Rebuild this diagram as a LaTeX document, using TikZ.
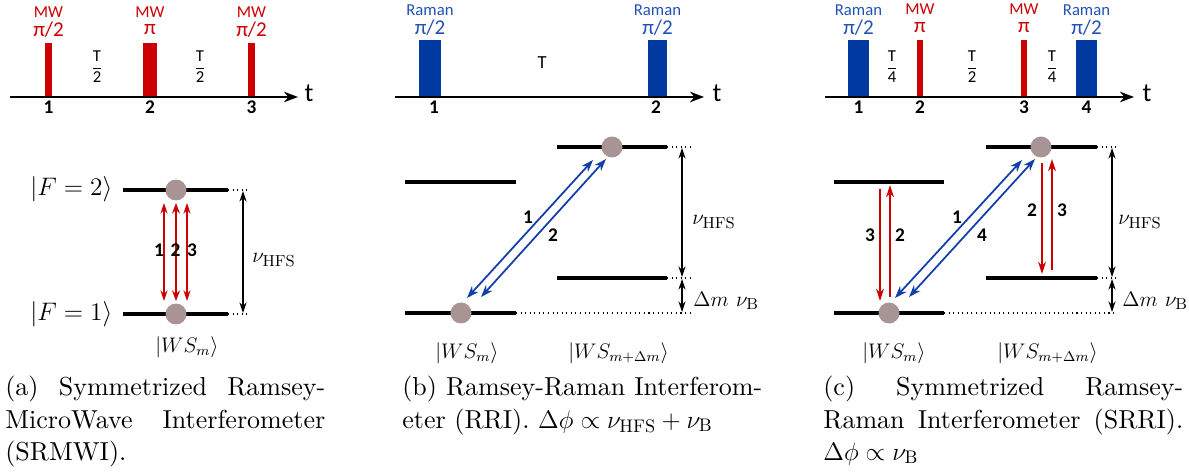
\documentclass[tikz,border=0pt]{standalone}
\usepackage{amsmath,amssymb}
\usepackage{fontspec}
\usepackage{tikz}
\usetikzlibrary{arrows.meta}
\newfontfamily\calib{Carlito}
\newfontfamily\capfont{lmroman10-regular.otf}
\definecolor{mwred}{RGB}{204,0,0}
\definecolor{ramanblue}{RGB}{0,58,160}
\definecolor{ramantext}{RGB}{32,82,180}
\definecolor{beamblue}{RGB}{18,62,170}
\definecolor{atomgray}{RGB}{168,148,148}

\tikzset{
  level/.style={line width=1.9pt},
  guide/.style={dotted, line width=0.6pt},
  atom/.style={circle, fill=atomgray, minimum size=0.42cm, inner sep=0pt},
  taxis/.style={line width=1.1pt, -{Stealth[length=8pt,width=6pt]}},
  mwlab/.style={text=mwred, inner sep=0pt, font=\calib\fontsize{9.5}{9.5}\selectfont},
  ramanlab/.style={text=ramantext, inner sep=0pt, font=\calib\fontsize{9.5}{9.5}\selectfont},
  pilab/.style={inner sep=0pt, font=\calib\fontsize{12}{12}\selectfont},
  pnum/.style={inner sep=0pt, font=\calib\bfseries\fontsize{11}{11}\selectfont},
  gap/.style={inner sep=0pt, font=\calib\fontsize{10.5}{10.5}\selectfont},
  gapfrac/.style={inner sep=0pt, font=\calib\fontsize{9.5}{9.5}\selectfont},
  mwbeam/.style={mwred, line width=0.8pt},
  ramanbeam/.style={beamblue, line width=1pt, {Stealth[length=7pt,width=5pt]}-{Stealth[length=7pt,width=5pt]}},
  split/.style={line width=0.7pt, {Stealth[length=6pt,width=4pt]}-{Stealth[length=6pt,width=4pt]}},
  mathlab/.style={inner sep=0pt, anchor=base west},
  statelab/.style={inner sep=0pt, anchor=base west, font=\fontsize{14}{16}\selectfont},
  gaplab/.style={inner sep=0pt, anchor=base west, font=\fontsize{13}{15}\selectfont},
  caption/.style={anchor=north west, inner sep=0pt, align=justify, text width=#1,
    font=\capfont\fontsize{14.8}{18.3}\selectfont}
}

\begin{document}
\begin{tikzpicture}[x=0.02cm, y=-0.02cm, font=\fontsize{12}{14}\selectfont]
        \useasboundingbox (0,0) rectangle (1189,476);

        % (a) microwave sequence
        \coordinate (a-t0) at (10,97);
        \coordinate (a-t1) at (298,97);
        \fill[mwred] (45,43) rectangle (52,97);
        \fill[mwred] (143,43) rectangle (157,97);
        \fill[mwred] (248,43) rectangle (255,97);
        \draw[taxis] (a-t0) -- (a-t1);
        \node[inner sep=0pt, font=\calib\fontsize{15}{15}\selectfont] (a-t) at (309,93) {t};
        \node[mwlab] (a-mw1) at (48.5,12) {MW};
        \node[pilab, text=mwred] (a-pi1) at (48.5,30) {π/2};
        \node[mwlab] (a-mw2) at (150,12) {MW};
        \node[pilab, text=mwred] (a-pi2) at (150,30) {π};
        \node[mwlab] (a-mw3) at (251.5,12) {MW};
        \node[pilab, text=mwred] (a-pi3) at (251.5,30) {π/2};
        \node[gapfrac] (a-half1) at (97,67) {$\dfrac{\text{T}}{\text{2}}$};
        \node[gapfrac] (a-half2) at (200,67) {$\dfrac{\text{T}}{\text{2}}$};
        \node[pnum] (a-n1) at (48.5,107) {1};
        \node[pnum] (a-n2) at (150,107) {2};
        \node[pnum] (a-n3) at (251.5,107) {3};

        % (a) levels
        \draw[level] (123,190) -- (228,190);
        \draw[level] (123,314) -- (228,314);
        \draw[guide] (228,190) -- (248,190);
        \draw[guide] (228,314) -- (248,314);
        \node[atom] (a-up) at (176,190) {};
        \node[atom] (a-dn) at (176,314) {};
        \coordinate (a-r1t) at (164,203);
        \coordinate (a-r1b) at (164,301);
        \coordinate (a-r2t) at (176,203);
        \coordinate (a-r2b) at (176,301);
        \coordinate (a-r3t) at (187,203);
        \coordinate (a-r3b) at (187,301);
        \draw[mwbeam, {Stealth[length=6pt,width=4pt]}-{Stealth[length=6pt,width=4pt]}] (a-r1t) -- (a-r1b);
        \draw[mwbeam, line width=1.5pt, {Stealth[length=6pt,width=4.5pt]}-{Stealth[length=6pt,width=4.5pt]}] (a-r2t) -- (a-r2b);
        \draw[mwbeam, {Stealth[length=6pt,width=4pt]}-{Stealth[length=6pt,width=4pt]}] (a-r3t) -- (a-r3b);
        \node[pnum] (a-l1) at (159,250) {1};
        \node[pnum] (a-l2) at (175.5,250) {2};
        \node[pnum] (a-l3) at (192,250) {3};
        \coordinate (a-s0) at (243,191);
        \coordinate (a-s1) at (243,313);
        \draw[split] (a-s0) -- (a-s1);
        \node[gaplab] (a-hfs) at (252,262) {$\nu_{\mathrm{HFS}}$};
        \node[statelab] (a-f2) at (30,195) {$|F=2\rangle$};
        \node[statelab] (a-f1) at (30,320) {$|F=1\rangle$};
        \node[mathlab] (a-ws) at (155,352) {$|W S_m\rangle$};

        % (b) Raman sequence
        \coordinate (b-t0) at (395,97);
        \coordinate (b-t1) at (704,97);
        \fill[ramanblue] (419,40) rectangle (441,97);
        \fill[ramanblue] (648,40) rectangle (667,97);
        \draw[taxis] (b-t0) -- (b-t1);
        \node[inner sep=0pt, font=\calib\fontsize{15}{15}\selectfont] (b-t) at (717,93) {t};
        \node[ramanlab] (b-ra1) at (430,10) {Raman};
        \node[pilab, text=ramantext] (b-pi1) at (430,28) {π/2};
        \node[ramanlab] (b-ra2) at (657.5,10) {Raman};
        \node[pilab, text=ramantext] (b-pi2) at (657.5,28) {π/2};
        \node[gap] (b-gap) at (542,63) {T};
        \node[pnum] (b-n1) at (434,107) {1};
        \node[pnum] (b-n2) at (656,107) {2};

        % (b) levels
        \draw[level] (405,182) -- (516,182);
        \draw[level] (405,313) -- (516,313);
        \draw[level] (557,147) -- (667,147);
        \draw[level] (557,278) -- (667,278);
        \draw[guide] (667,147) -- (690,147);
        \draw[guide] (667,278) -- (690,278);
        \draw[guide] (516,313) -- (690,313);
        \node[atom] (b-dn) at (461,313) {};
        \node[atom] (b-up) at (612,147) {};
        \coordinate (b-b1s) at (467,298);
        \coordinate (b-b1e) at (593,160);
        \coordinate (b-b2s) at (481,297);
        \coordinate (b-b2e) at (606,159);
        \draw[ramanbeam] (b-b1s) -- (b-b1e);
        \draw[ramanbeam] (b-b2s) -- (b-b2e);
        \node[pnum] (b-l1) at (528,217) {1};
        \node[pnum] (b-l2) at (553,235) {2};
        \coordinate (b-s0) at (682,148);
        \coordinate (b-s1) at (682,277);
        \coordinate (b-s2) at (682,279);
        \coordinate (b-s3) at (682,312);
        \draw[split] (b-s0) -- (b-s1);
        \draw[split] (b-s2) -- (b-s3);
        \node[gaplab] (b-hfs) at (692,224) {$\nu_{\mathrm{HFS}}$};
        \node[gaplab] (b-zee) at (693,306) {$\Delta m\ \nu_{\mathrm{B}}$};
        \node[mathlab] (b-ws) at (435,358) {$|W S_m\rangle$};
        \node[mathlab] (b-wsd) at (568,358) {$|W S_{m+\Delta m}\rangle$};

        % (c) symmetrized Raman sequence
        \coordinate (c-t0) at (825,97);
        \coordinate (c-t1) at (1134,97);
        \fill[ramanblue] (848,40) rectangle (869,97);
        \fill[mwred] (917,40) rectangle (923,97);
        \fill[mwred] (1021,40) rectangle (1027,97);
        \fill[ramanblue] (1076,40) rectangle (1097,97);
        \draw[taxis] (c-t0) -- (c-t1);
        \node[inner sep=0pt, font=\calib\fontsize{15}{15}\selectfont] (c-t) at (1147,93) {t};
        \node[ramanlab] (c-ra1) at (858.5,10) {Raman};
        \node[pilab, text=ramantext] (c-pi1) at (858.5,28) {π/2};
        \node[mwlab] (c-mw2) at (920,9) {MW};
        \node[pilab, text=mwred] (c-pi2) at (920,28) {π};
        \node[mwlab] (c-mw3) at (1024,9) {MW};
        \node[pilab, text=mwred] (c-pi3) at (1024,28) {π};
        \node[ramanlab] (c-ra4) at (1086.5,10) {Raman};
        \node[pilab, text=ramantext] (c-pi4) at (1086.5,28) {π/2};
        \node[gapfrac] (c-q1) at (892,67) {$\dfrac{\text{T}}{\text{4}}$};
        \node[gapfrac] (c-half) at (972,67) {$\dfrac{\text{T}}{\text{2}}$};
        \node[gapfrac] (c-q2) at (1052,67) {$\dfrac{\text{T}}{\text{4}}$};
        \node[pnum] (c-n1) at (858.5,107) {1};
        \node[pnum] (c-n2) at (920,107) {2};
        \node[pnum] (c-n3) at (1024,107) {3};
        \node[pnum] (c-n4) at (1086.5,107) {4};

        % (c) levels
        \draw[level] (834,182) -- (944,182);
        \draw[level] (834,313) -- (944,313);
        \draw[level] (986,147) -- (1097,147);
        \draw[level] (986,278) -- (1097,278);
        \draw[guide] (1097,147) -- (1116,147);
        \draw[guide] (1097,278) -- (1116,278);
        \draw[guide] (944,313) -- (1116,313);
        \node[atom] (c-dn) at (889,313) {};
        \node[atom] (c-up) at (1041,147) {};
        \coordinate (c-b1s) at (895,298);
        \coordinate (c-b1e) at (1022,160);
        \coordinate (c-b2s) at (909,297);
        \coordinate (c-b2e) at (1035,159);
        \draw[ramanbeam] (c-b1s) -- (c-b1e);
        \draw[ramanbeam] (c-b2s) -- (c-b2e);
        \coordinate (c-d3s) at (880,189);
        \coordinate (c-d3e) at (880,301);
        \coordinate (c-u2s) at (890,297);
        \coordinate (c-u2e) at (890,185);
        \coordinate (c-d2s) at (1042,163);
        \coordinate (c-d2e) at (1042,274);
        \coordinate (c-u3s) at (1052,270);
        \coordinate (c-u3e) at (1052,159);
        \draw[mwbeam, -{Stealth[length=7pt,width=4.5pt]}] (c-d3s) -- (c-d3e);
        \draw[mwbeam, -{Stealth[length=7pt,width=4.5pt]}] (c-u2s) -- (c-u2e);
        \draw[mwbeam, -{Stealth[length=7pt,width=4.5pt]}] (c-d2s) -- (c-d2e);
        \draw[mwbeam, -{Stealth[length=7pt,width=4.5pt]}] (c-u3s) -- (c-u3e);
        \node[pnum] (c-l3a) at (870,235) {3};
        \node[pnum] (c-l2a) at (900,235) {2};
        \node[pnum] (c-l2b) at (1032,210) {2};
        \node[pnum] (c-l3b) at (1062,210) {3};
        \node[pnum] (c-l1) at (957,217) {1};
        \node[pnum] (c-l4) at (982,235) {4};
        \coordinate (c-s0) at (1112,148);
        \coordinate (c-s1) at (1112,277);
        \coordinate (c-s2) at (1112,279);
        \coordinate (c-s3) at (1112,312);
        \draw[split] (c-s0) -- (c-s1);
        \draw[split] (c-s2) -- (c-s3);
        \node[gaplab] (c-hfs) at (1118,224) {$\nu_{\mathrm{HFS}}$};
        \node[gaplab] (c-zee) at (1122,306) {$\Delta m\ \nu_{\mathrm{B}}$};
        \node[mathlab] (c-ws) at (862,358) {$|W S_m\rangle$};
        \node[mathlab] (c-wsd) at (997,358) {$|W S_{m+\Delta m}\rangle$};

        % captions
        \node[caption=6.4cm] (a-cap) at (5,376) {(a) Symmetrized Ramsey-\linebreak MicroWave Interferometer\linebreak (SRMWI).};
        \node[caption=7.2cm] (b-cap) at (402,376) {(b) Ramsey-Raman Interferom-\linebreak eter (RRI). $\Delta\phi\propto\nu_{\mathrm{HFS}}+\nu_{\mathrm{B}}$};
        \node[caption=7.2cm] (c-cap) at (823,376) {(c) Symmetrized Ramsey-\linebreak Raman Interferometer (SRRI).\linebreak $\Delta\phi\propto\nu_{\mathrm{B}}$};

    \end{tikzpicture}
\end{document}
